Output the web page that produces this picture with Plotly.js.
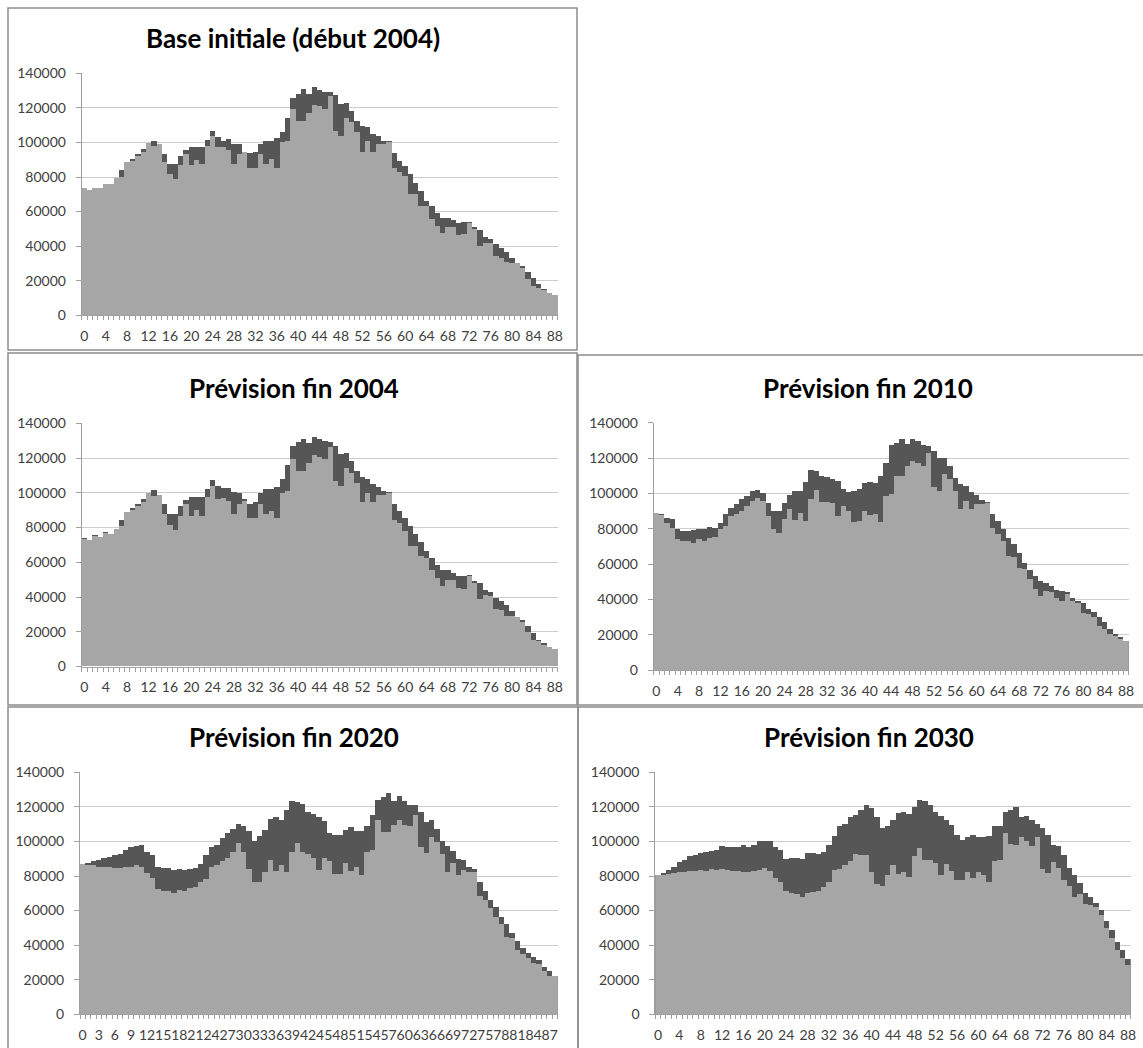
<!DOCTYPE html>
<html>
<head>
<meta charset="utf-8">
<script src="https://cdn.plot.ly/plotly-3.0.1.min.js"></script>
<style>
  html, body { margin: 0; padding: 0; background: #ffffff; }
  #chart { width: 1143px; height: 1048px; }
</style>
</head>
<body>
<div id="chart"></div>
<script>
// Ages 0 to 88
const ages = [0,1,2,3,4,5,6,7,8,9,10,11,12,13,14,15,16,17,18,19,20,21,22,23,24,25,26,27,28,29,
  30,31,32,33,34,35,36,37,38,39,40,41,42,43,44,45,46,47,48,49,50,51,52,53,54,55,56,57,58,59,
  60,61,62,63,64,65,66,67,68,69,70,71,72,73,74,75,76,77,78,79,80,81,82,83,84,85,86,87,88];

// Base initiale (début 2004)
const base2004Dark = [73900,72600,73900,73900,76200,76200,79700,84100,88800,90700,
  93200,96100,99500,101100,99000,93200,87400,87400,92300,95500,
  97100,97100,97100,101500,106700,102900,100900,101900,99000,99000,
  94600,93800,94200,99000,100900,100900,102300,105800,114400,126000,
  128000,130900,128000,131800,130500,129300,129300,127400,122200,122700,
  118300,112500,109600,108700,104800,103800,100900,100900,93800,89400,
  86500,81600,76400,72000,66200,63300,59400,56500,56500,55200,
  53300,54000,54000,50800,49400,45500,44400,41100,39200,36700,
  33400,30100,28600,25100,21800,17900,15400,13100,11600];
const base2004Light = [73900,72600,73900,73900,76200,76200,79700,80100,88800,89400,
  91900,94600,99500,98000,99000,88400,81600,78700,86900,93200,
  86900,89700,87400,98000,103800,97100,97100,95500,87400,93200,
  94600,85500,85500,93200,87400,90300,85500,100000,101000,119300,
  112500,112500,117300,121600,120800,119300,127000,106700,103800,114400,
  111600,105800,94600,100900,94600,99000,99000,100400,85500,83000,
  80700,70000,70000,63300,63300,55600,51700,47900,50800,50800,
  46300,46900,53500,49800,40100,42100,42100,34400,33400,30900,
  30500,30100,27600,20800,17000,16000,14700,13100,11600];

// Prévision fin 2004
const fin2004Dark = [74200,73000,75500,74600,77300,76500,79200,84600,88800,91300,
  93800,96500,99600,101500,99000,93300,87900,87500,92300,95800,
  97500,97500,97500,101900,107300,103800,102900,102900,100400,100000,
  96200,93800,94600,100000,102300,101900,103500,107700,115800,126900,
  129200,131200,128500,132300,130800,129800,129200,126900,122100,122700,
  118300,112500,109200,108100,104800,103500,101000,100400,93800,89400,
  85600,80800,76000,71500,66300,62500,58600,55800,55400,53800,
  52300,52300,52900,49000,48100,44200,42700,39400,37500,35600,
  31700,28500,26500,23500,19200,15400,13500,11500,10000];
const fin2004Light = [73500,73000,75000,74600,76900,76500,79200,80800,88800,89800,
  92300,94600,99600,98000,99000,88000,81700,78800,86900,93800,
  86500,89800,86900,97700,103800,96500,97100,95200,87500,93300,
  95200,85600,85600,93800,87500,89400,85600,100000,101000,119200,
  112500,112500,117300,121500,120800,119200,126500,106700,103800,114400,
  111200,105800,94600,100000,94600,98500,98500,100000,84600,82700,
  77900,69600,69200,63500,62500,55400,51000,46200,49600,49600,
  45200,44600,52300,48100,38800,41300,40400,33100,32700,28800,
  29200,28500,25400,19600,15000,14400,12500,11500,10000];

// Prévision fin 2010
const fin2010Dark = [88700,88500,86200,85300,79700,78700,78700,79300,80000,79700,
  81200,80600,83400,88100,91900,93800,96600,98500,101300,101900,
  100400,94700,90000,90000,94300,98900,101300,101300,106400,113500,
  112600,109800,109400,108300,107000,102200,100700,101300,102200,106000,
  106400,106000,109800,117300,127100,128600,130900,127700,130900,129600,
  127100,126700,123900,120100,120100,115400,108800,105100,104100,100700,
  98900,96200,95100,88100,84400,79700,74900,71200,66500,60800,
  56700,53300,50500,49500,47600,45400,44800,43900,41000,39200,
  38200,34800,32600,29800,26900,23200,20300,18500,16600];
const fin2010Light = [88700,87600,83400,80600,74000,73100,73100,72100,74000,73100,
  74900,75500,79700,81500,87200,88100,90000,92800,95700,97500,
  95700,87200,79700,77400,85300,90900,84900,89100,84400,97000,
  101900,95100,95100,94300,87200,92800,90000,83800,84400,90000,
  87600,88100,83800,98500,99400,109800,109800,115400,118300,117300,
  115400,122600,103800,101300,110700,107900,101300,90900,95700,90900,
  93800,93800,94300,80600,76800,73100,64600,64200,58000,57100,
  51400,45800,42000,44800,43900,40500,39200,42900,39200,38200,
  32200,31600,29800,24700,23200,20300,19000,17500,16600];

// Prévision fin 2020
const fin2020Dark = [86900,87400,88400,89400,90300,91100,91900,92600,95100,96500,
  97100,97700,93800,91900,85500,84900,84900,83600,84100,83600,
  84100,84900,86900,91900,96500,98000,101900,104800,107300,110000,
  109200,105800,100000,102900,106700,113100,113900,112500,118300,123500,
  123100,121600,117300,115800,113900,111600,104800,103800,103800,106700,
  108100,105800,106100,108700,115400,124100,125500,128000,123500,126000,
  123500,121200,120800,117300,111200,112500,107300,100400,97100,94600,
  89900,89400,85500,84100,76400,71400,66200,61800,56500,52100,
  46900,42500,38600,35300,33400,31500,27600,25100,22400];
const fin2020Light = [86900,86500,86100,85500,85100,85100,84900,84500,85500,85500,
  86500,85500,81600,78700,72600,71400,71400,70100,72000,71400,
  73300,73900,76800,78400,85500,86500,88400,90700,93800,99000,
  93800,84100,76800,76400,82200,89400,83000,86500,82200,93800,
  99000,93800,92600,90300,83600,90700,88400,81100,81100,87400,
  83000,85500,80700,93800,95100,112500,105400,105400,109600,112500,
  109600,108700,115400,96500,93200,102300,99600,92600,82600,87400,
  80700,83600,82600,82200,68700,66200,61400,56500,52100,45000,
  44000,37200,34700,32400,29500,29000,25100,22400,22400];

// Prévision fin 2030
const fin2030Dark = [80300,81600,83600,85500,88000,89400,91300,92300,93200,93800,
  94600,95100,97100,96500,96500,96500,98000,96500,98000,100000,
  100400,100000,96500,95100,89900,90700,90300,89900,93200,93200,
  92600,93800,98000,103400,108700,110000,114400,115400,118300,121200,
  119300,114400,107700,108700,112500,116400,117300,115800,119700,124100,
  123500,120800,117300,115000,112500,109600,103800,100900,102300,103800,
  102300,102300,102900,108700,108700,117300,118300,119700,114400,115000,
  112500,110000,107700,103800,98000,97100,92300,84500,80700,75800,
  70100,68100,64300,60400,54000,48800,42100,37200,32000];
const fin2030Light = [80300,80700,81100,81600,82200,82600,83000,83000,83600,83000,
  84100,83600,84100,83600,83000,83000,82600,82200,83000,83600,
  84500,83000,78700,76400,71400,70100,69500,68100,70100,70600,
  71400,73900,76400,83600,84100,86500,88400,92600,91900,91900,
  82200,75300,74500,80700,86500,81100,82600,79700,91300,96100,
  89400,89400,87400,80700,86900,83000,77800,77800,82600,78700,
  82200,80700,76400,88400,89400,104800,98400,98000,102300,100400,
  97100,102300,84100,81600,88000,84500,77800,74500,67600,69500,
  63700,63300,61800,57500,49800,44000,37200,32400,28600];

const panelTitles = ['Base initiale (début 2004)', 'Prévision fin 2004', 'Prévision fin 2010',
  'Prévision fin 2020', 'Prévision fin 2030'];
const yTicks = [0, 20000, 40000, 60000, 80000, 100000, 120000, 140000];
const xTicksBy4 = [0,4,8,12,16,20,24,28,32,36,40,44,48,52,56,60,64,68,72,76,80,84,88];
const xTicksBy3 = [0,3,6,9,12,15,18,21,24,27,30,33,36,39,42,45,48,51,54,57,60,63,66,69,72,75,78,81,84,87];

const W = 1143, H = 1048;
const px = v => v / W;
const py = v => 1 - v / H;

const DARK = '#565656';
const LIGHT = '#a6a6a6';
const FONT = 'Lato, "Open Sans", sans-serif';

const panels = [
  { dark: base2004Dark, light: base2004Light, xTicks: xTicksBy4,
    x: [81.7, 557.5], y: [315.3, 73.3], title: [293, 38] },
  { dark: fin2004Dark, light: fin2004Light, xTicks: xTicksBy4,
    x: [81.7, 557.5], y: [666.5, 423.3], title: [294, 388] },
  { dark: fin2010Dark, light: fin2010Light, xTicks: xTicksBy4,
    x: [653.7, 1128.7], y: [670.0, 422.7], title: [868, 388] },
  { dark: fin2020Dark, light: fin2020Light, xTicks: xTicksBy3,
    x: [80.0, 557.7], y: [1014.3, 772.3], title: [294, 737] },
  { dark: fin2030Dark, light: fin2030Light, xTicks: xTicksBy4,
    x: [655.3, 1130.7], y: [1014.3, 772.3], title: [869, 737] }
];

const traces = [];
const layout = {
  width: W, height: H,
  margin: { l: 0, r: 0, t: 0, b: 0 },
  paper_bgcolor: '#ffffff',
  plot_bgcolor: '#ffffff',
  barmode: 'overlay',
  bargap: 0,
  showlegend: false,
  font: { family: FONT, color: '#404040', size: 14 },
  annotations: [],
  shapes: []
};

panels.forEach((p, i) => {
  const n = i === 0 ? '' : String(i + 1);
  const xa = 'x' + n, ya = 'y' + n;
  traces.push({
    type: 'bar', x: ages, y: p.dark, xaxis: xa, yaxis: ya,
    width: 1, marker: { color: DARK, line: { width: 0 } }, name: 'Série 1',
    hovertemplate: '%{x} : %{y}<extra></extra>'
  });
  traces.push({
    type: 'bar', x: ages, y: p.light, xaxis: xa, yaxis: ya,
    width: 1, marker: { color: LIGHT, line: { width: 0 } }, name: 'Série 2',
    hovertemplate: '%{x} : %{y}<extra></extra>'
  });

  layout['xaxis' + n] = {
    domain: [px(p.x[0]), px(p.x[1])],
    anchor: ya,
    type: 'linear',
    range: [-0.5, 88.5],
    tickmode: 'array',
    tickvals: p.xTicks,
    ticktext: p.xTicks.map(String),
    tickangle: 0,
    ticks: '',
    ticklabelstandoff: 8,
    showgrid: false,
    zeroline: false,
    showline: true,
    linecolor: '#a0a0a0',
    linewidth: 1,
    tickfont: { family: FONT, size: 14, color: '#404040' },
    minor: { tickmode: 'linear', tick0: -0.5, dtick: 1, ticks: 'outside',
             ticklen: 4, tickcolor: '#a0a0a0', tickwidth: 1, showgrid: false },
    fixedrange: true
  };
  layout['yaxis' + n] = {
    domain: [py(p.y[0]), py(p.y[1])],
    anchor: xa,
    range: [0, 140000],
    tickmode: 'array',
    tickvals: yTicks,
    tickformat: 'd',
    ticks: 'outside',
    ticklen: 5,
    tickcolor: '#a0a0a0',
    ticklabelstandoff: 7,
    showgrid: true,
    gridcolor: '#cccccc',
    gridwidth: 1,
    zeroline: false,
    showline: true,
    linecolor: '#a0a0a0',
    linewidth: 1,
    tickfont: { family: FONT, size: 14, color: '#404040' },
    fixedrange: true
  };

  layout.annotations.push({
    text: '<b>' + panelTitles[i] + '</b>',
    xref: 'paper', yref: 'paper',
    x: px(p.title[0]), y: py(p.title[1]),
    xanchor: 'center', yanchor: 'middle',
    showarrow: false,
    font: { family: FONT, size: 26, color: '#000000' }
  });
});

// Frames around each chart
const frames = [
  [8, 8, 577, 350],
  [8, 353, 577, 705],
  [578, 355, 1150, 705],
  [8, 707, 578, 1060],
  [578, 707, 1150, 1060]
];
frames.forEach(f => {
  layout.shapes.push({
    type: 'rect', xref: 'paper', yref: 'paper',
    x0: px(f[0]), x1: px(f[2]), y0: py(f[3]), y1: py(f[1]),
    line: { color: '#8c8c8c', width: 1.5 }, fillcolor: 'rgba(0,0,0,0)',
    layer: 'above'
  });
});

Plotly.newPlot('chart', traces, layout, { staticPlot: true, displayModeBar: false });
</script>
</body>
</html>
